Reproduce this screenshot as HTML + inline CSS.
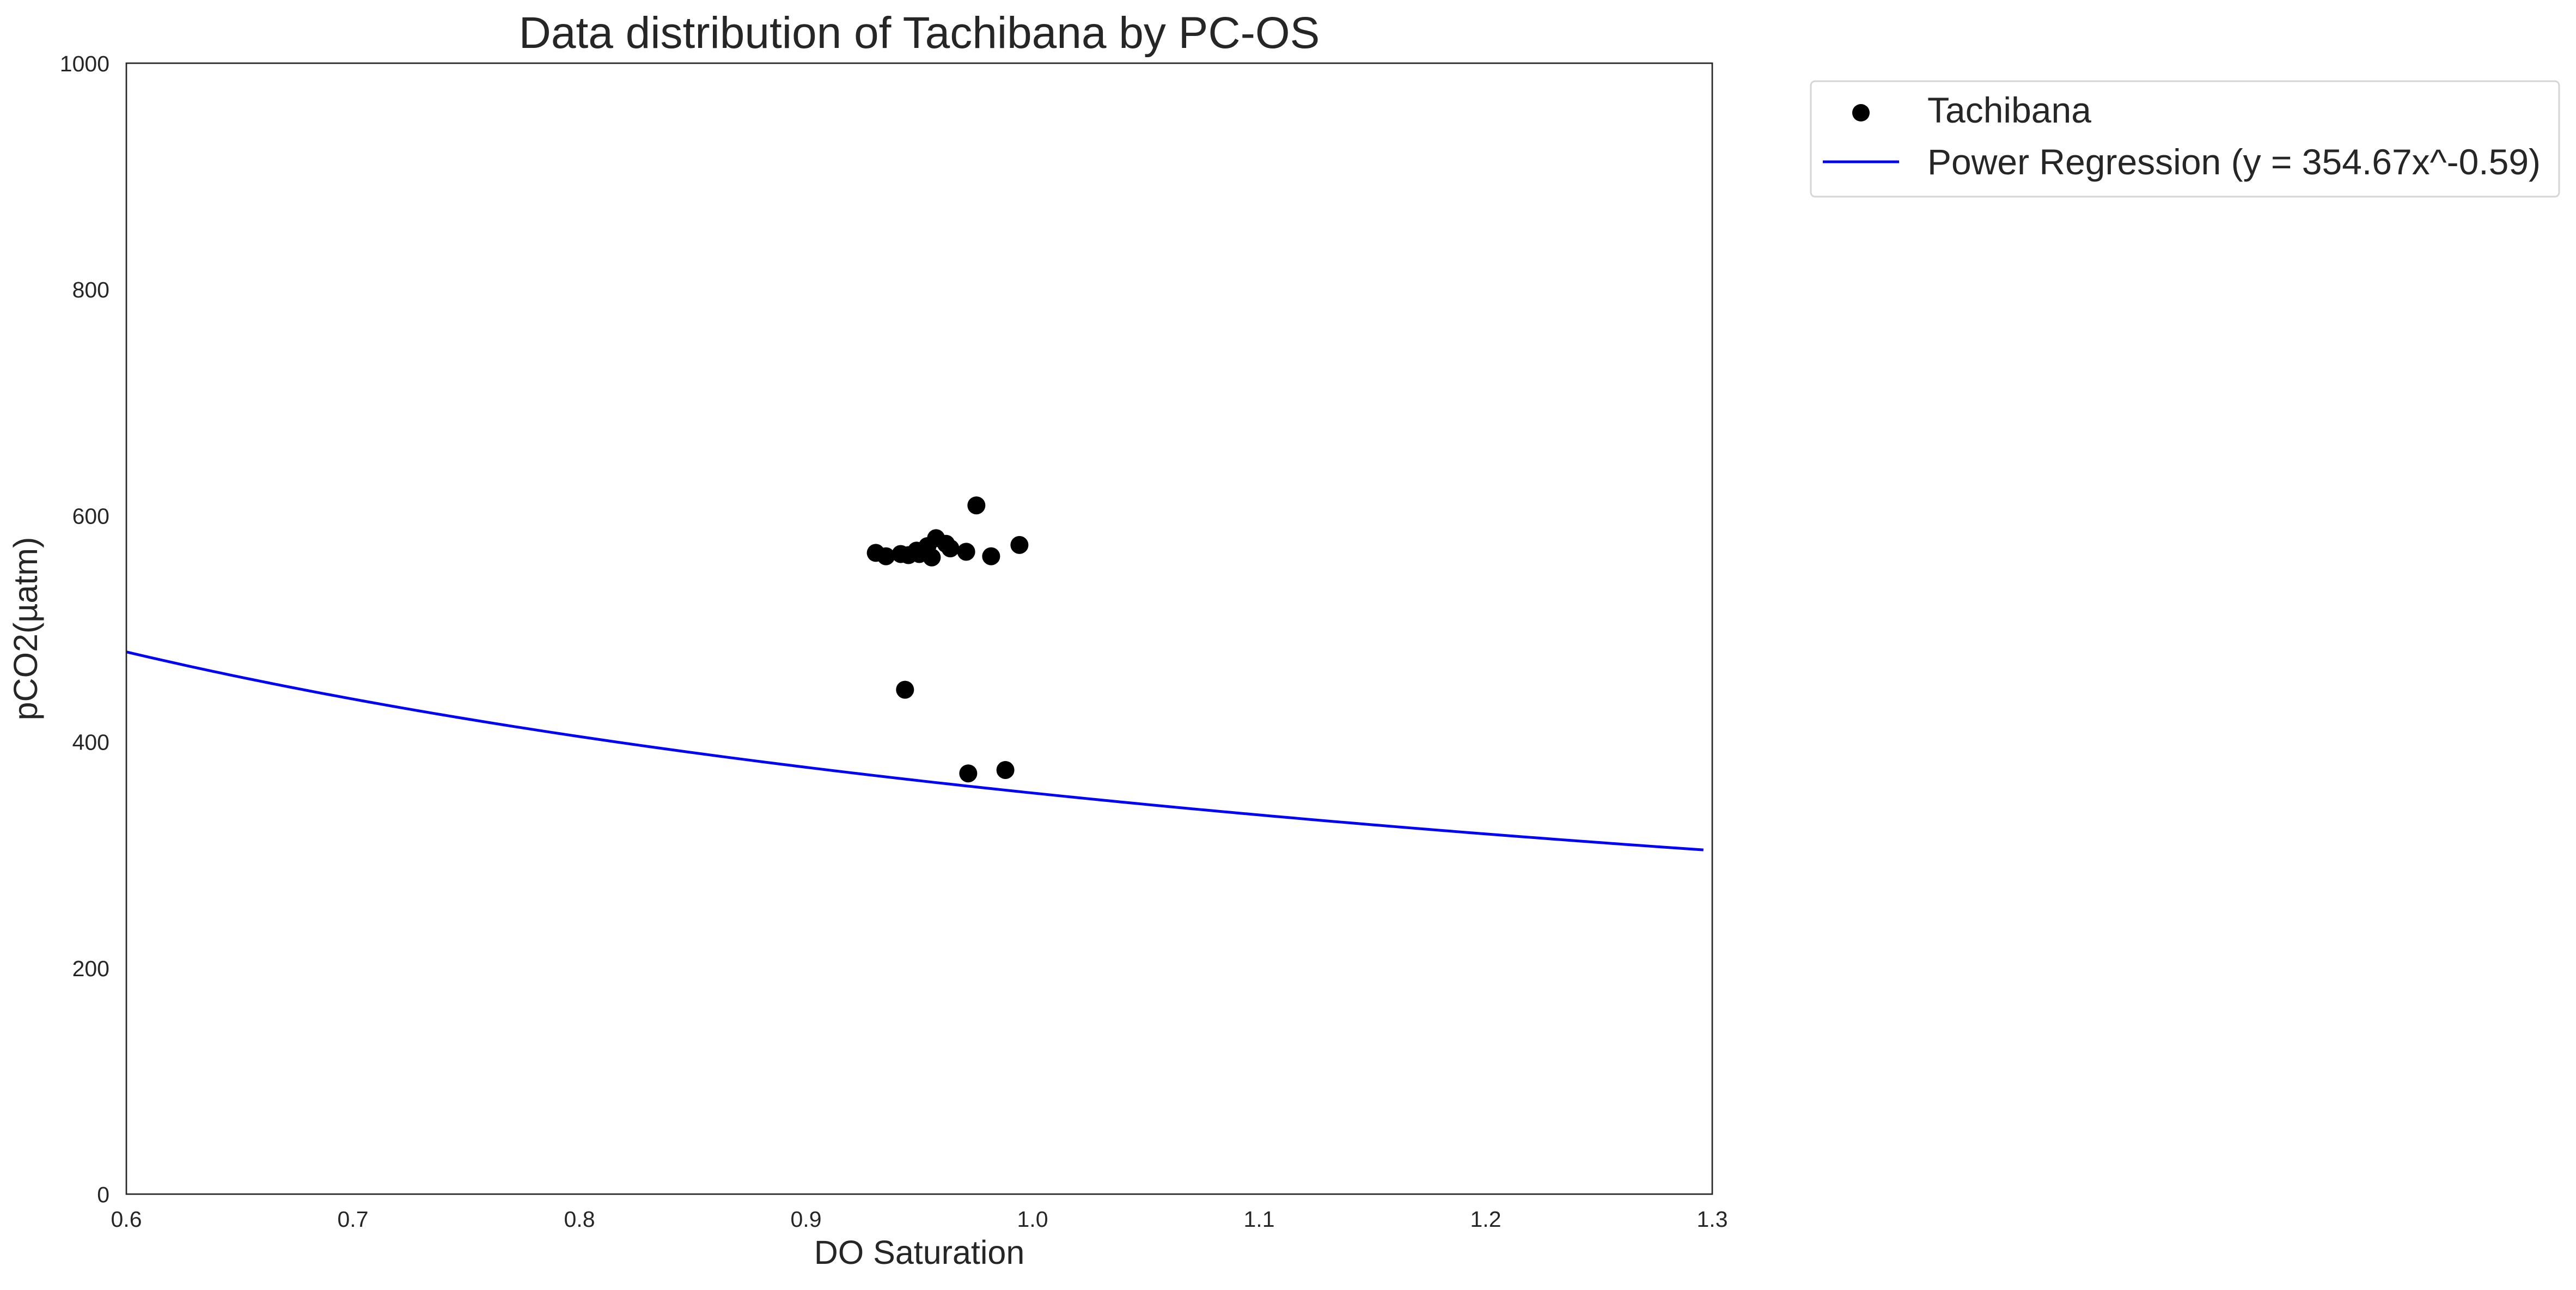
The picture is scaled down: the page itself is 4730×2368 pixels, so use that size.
<!DOCTYPE html>
<html><head><meta charset="utf-8"><style>
html,body{margin:0;padding:0;background:#fff;}
svg{display:block;font-family:"Liberation Sans",Arial,sans-serif;}
</style></head><body>
<svg id="chart" width="4730" height="2368" viewBox="0 0 4730 2368" xmlns="http://www.w3.org/2000/svg">
<rect x="0" y="0" width="4730" height="2368" fill="#fff"/>
<text x="1688" y="88" font-size="82" text-anchor="middle" fill="#262626">Data distribution of Tachibana by PC-OS</text>
<g id="ticks"></g>
<g id="marks"></g>
<rect x="232" y="116" width="2912" height="2076" fill="none" stroke="#262626" stroke-width="2.7"/>
<text x="1688" y="2320" font-size="61" text-anchor="middle" fill="#262626">DO Saturation</text>
<text transform="translate(68,1154) rotate(-90)" font-size="61" text-anchor="middle" fill="#262626">pCO2(µatm)</text>
<g>
<rect x="3325" y="149" width="1374" height="212" rx="8" fill="#fff" stroke="#d5d5d5" stroke-width="3"/>
<circle cx="3417" cy="207" r="16" fill="#000"/>
<text x="3539" y="225" font-size="66" fill="#262626">Tachibana</text>
<line x1="3347" y1="297" x2="3487" y2="297" stroke="#0000ff" stroke-width="5"/>
<text x="3539" y="320" font-size="66" fill="#262626">Power Regression (y = 354.67x^-0.59)</text>
</g>
</svg>
<script>
const xTicks = [0.6, 0.7, 0.8, 0.9, 1.0, 1.1, 1.2, 1.3];
const xTickLabels = ["0.6", "0.7", "0.8", "0.9", "1.0", "1.1", "1.2", "1.3"];
const yTicks = [0, 200, 400, 600, 800, 1000];
const yTickLabels = ["0", "200", "400", "600", "800", "1000"];
const doSaturation = [0.9752, 0.9308, 0.9353, 0.9418, 0.9452, 0.9488, 0.9500, 0.9536, 0.9574, 0.9555, 0.9618, 0.9637, 0.9707, 0.9817, 0.9942, 0.9437, 0.9716, 0.9880];
const pco2 = [609, 567, 564, 566, 565, 569, 566, 573, 580, 563, 575, 571, 568, 564, 574, 446, 372, 375];
const regA = 354.67;
const regB = -0.59;
const regRange = [0.6, 1.2961];

const NS = "http://www.w3.org/2000/svg";
const X0 = 232, X1 = 3144, Y0 = 2192, Y1 = 116;
const xMin = 0.6, xMax = 1.3, yMin = 0, yMax = 1000;
function sx(v){ return X0 + (v - xMin) / (xMax - xMin) * (X1 - X0); }
function sy(v){ return Y0 - (v - yMin) / (yMax - yMin) * (Y0 - Y1); }
function mk(tag, attrs){ const e = document.createElementNS(NS, tag); for (const k in attrs) e.setAttribute(k, attrs[k]); return e; }

const ticks = document.getElementById('ticks');
xTicks.forEach((t, i) => {
  const el = mk('text', {x: sx(t), y: 2252, 'font-size': 41, 'text-anchor': 'middle', fill: '#262626'});
  
  
  el.textContent = xTickLabels[i];
  ticks.appendChild(el);
});
yTicks.forEach((t, i) => {
  const el = mk('text', {x: 201, y: sy(t) + 15, 'font-size': 41, 'text-anchor': 'end', fill: '#262626'});
  
  
  el.textContent = yTickLabels[i];
  ticks.appendChild(el);
});

const marks = document.getElementById('marks');
let d = '';
const N = 200;
for (let i = 0; i <= N; i++) {
  const xv = regRange[0] + (regRange[1] - regRange[0]) * i / N;
  const yv = regA * Math.pow(xv, regB);
  d += (i ? 'L' : 'M') + sx(xv).toFixed(2) + ',' + sy(yv).toFixed(2);
}
const line = mk('path', {d: d, fill: 'none', stroke: '#0000ff', 'stroke-width': 5});


marks.appendChild(line);

doSaturation.forEach((xv, i) => {
  const c = mk('circle', {cx: sx(xv), cy: sy(pco2[i]), r: 16.5, fill: '#000'});
  
  
  marks.appendChild(c);
});
</script>
</body></html>
